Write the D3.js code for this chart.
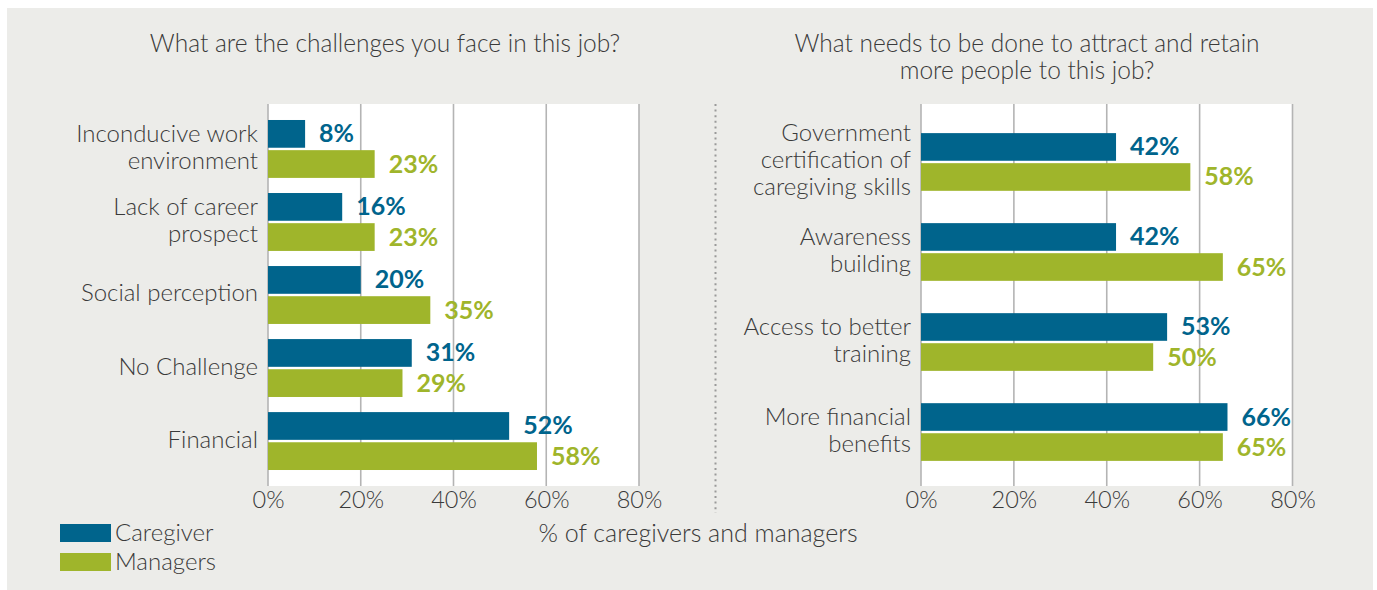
<!DOCTYPE html>
<html>
<head>
<meta charset="utf-8">
<script src="https://cdn.jsdelivr.net/npm/d3@7"></script>
<style>
  html, body { margin: 0; padding: 0; background: #ffffff; }
  svg { display: block; }
  text { font-family: Lato, "Noto Sans", sans-serif; }
</style>
</head>
<body>
<svg id="chart" width="1377" height="590"></svg>
<script>
// ---- data ----
const seriesNames = ["Caregiver", "Managers"];
const tickValues = [0, 20, 40, 60, 80];

const challengeTitle = ["What are the challenges you face in this job?"];
const challengeCategories = [
  "Inconducive work\nenvironment",
  "Lack of career\nprospect",
  "Social perception",
  "No Challenge",
  "Financial"
];
const challengeCaregiver = [8, 16, 20, 31, 52];
const challengeManagers = [23, 23, 35, 29, 58];

const retainTitle = ["What needs to be done to attract and retain", "more people to this job?"];
const retainCategories = [
  "Government\ncertification of\ncaregiving skills",
  "Awareness\nbuilding",
  "Access to better\ntraining",
  "More financial\nbenefits"
];
const retainCaregiver = [42, 42, 53, 66];
const retainManagers = [58, 65, 50, 65];

const axisTitle = "% of caregivers and managers";

// ---- style ----
const colors = { Caregiver: "#00648c", Managers: "#9fb52b" };
const textColor = "#3a3a3a";
const gridColor = "#b4b4b4";
const panelColor = "#ecece9";
const fontLight = 300;

const svg = d3.select("#chart");

svg.append("rect")
  .attr("x", 7).attr("y", 8)
  .attr("width", 1366).attr("height", 582)
  .attr("fill", panelColor);

function drawPanel(opts) {
  const { categories, caregiver, managers, x0, x1, yTop, yBottom,
          bandRange, padInner, padOuter, title, titleX } = opts;

  const x = d3.scaleLinear().domain([0, 80]).range([x0, x1]);
  const y = d3.scaleBand().domain(categories).range(bandRange)
    .paddingInner(padInner).paddingOuter(padOuter);
  const ySeries = d3.scaleBand().domain(seriesNames)
    .range([0, y.bandwidth()]).paddingInner(0.08);

  const g = svg.append("g");

  // plot background
  g.append("rect")
    .attr("x", x0).attr("y", yTop)
    .attr("width", x1 - x0).attr("height", yBottom - yTop)
    .attr("fill", "#ffffff");

  // vertical grid
  g.append("g")
    .selectAll("line")
    .data(tickValues)
    .join("line")
    .attr("x1", d => x(d)).attr("x2", d => x(d))
    .attr("y1", yTop).attr("y2", yBottom)
    .attr("stroke", gridColor)
    .attr("stroke-width", 1.6);

  // tick labels via d3 axis
  const axis = d3.axisBottom(x).tickValues(tickValues)
    .tickFormat(d => d + "%").tickSize(0).tickPadding(0);
  const axisG = g.append("g")
    .attr("transform", `translate(0,${yBottom})`)
    .call(axis);
  axisG.select(".domain").remove();
  axisG.selectAll("text")
    .attr("y", 22).attr("dy", 0)
    .attr("fill", textColor)
    .style("font-size", "23.5px")
    .style("font-weight", fontLight);

  const rows = categories.map((c, i) => ({
    category: c,
    values: [
      { series: "Caregiver", value: caregiver[i] },
      { series: "Managers", value: managers[i] }
    ]
  }));

  const rowG = g.selectAll("g.row")
    .data(rows)
    .join("g")
    .attr("class", "row")
    .attr("transform", d => `translate(0,${y(d.category)})`);

  rowG.selectAll("rect")
    .data(d => d.values)
    .join("rect")
    .attr("x", x(0))
    .attr("y", d => ySeries(d.series))
    .attr("width", d => x(d.value) - x(0))
    .attr("height", ySeries.bandwidth())
    .attr("fill", d => colors[d.series]);

  rowG.selectAll("text.value")
    .data(d => d.values)
    .join("text")
    .attr("class", "value")
    .attr("x", d => x(d.value) + 14)
    .attr("y", d => ySeries(d.series) + ySeries.bandwidth() / 2 + 8.5)
    .attr("fill", d => colors[d.series])
    .style("font-size", "25px")
    .style("font-weight", 700)
    .text(d => d.value + "%");

  // category labels
  const lineH = 27;
  rowG.append("text")
    .attr("text-anchor", "end")
    .attr("fill", textColor)
    .style("font-size", "24px")
    .style("font-weight", fontLight)
    .each(function(d) {
      const lines = d.category.split("\n");
      const mid = y.bandwidth() / 2;
      d3.select(this).selectAll("tspan")
        .data(lines)
        .join("tspan")
        .attr("x", x0 - 10)
        .attr("y", (l, i) => mid + (i - (lines.length - 1) / 2) * lineH + 6.5)
        .text(l => l);
    });

  // title
  g.append("text")
    .attr("text-anchor", "middle")
    .attr("fill", textColor)
    .style("font-size", "24.5px")
    .style("font-weight", fontLight)
    .selectAll("tspan")
    .data(title)
    .join("tspan")
    .attr("x", titleX)
    .attr("y", (t, i) => 52 + i * 27)
    .text(t => t);
}

drawPanel({
  categories: challengeCategories,
  caregiver: challengeCaregiver,
  managers: challengeManagers,
  x0: 268, x1: 639, yTop: 104, yBottom: 486,
  bandRange: [104, 486], padInner: 0.207, padOuter: 0.219,
  title: challengeTitle, titleX: 385
});

drawPanel({
  categories: retainCategories,
  caregiver: retainCaregiver,
  managers: retainManagers,
  x0: 921, x1: 1292.5, yTop: 104, yBottom: 486,
  bandRange: [108, 486], padInner: 0.359, padOuter: 0.279,
  title: retainTitle, titleX: 1027
});

// dotted divider between the two panels
svg.append("line")
  .attr("x1", 715.5).attr("x2", 715.5)
  .attr("y1", 104).attr("y2", 513)
  .attr("stroke", "#9a9a9a")
  .attr("stroke-width", 2)
  .attr("stroke-dasharray", "2 3.6");

// shared axis title
svg.append("text")
  .attr("x", 698).attr("y", 542)
  .attr("text-anchor", "middle")
  .attr("fill", textColor)
  .style("font-size", "25px")
  .style("font-weight", fontLight)
  .text(axisTitle);

// legend
const legend = svg.append("g")
  .selectAll("g")
  .data(seriesNames)
  .join("g")
  .attr("transform", (d, i) => `translate(60,${524 + i * 29})`);

legend.append("rect")
  .attr("width", 51).attr("height", 18)
  .attr("fill", d => colors[d]);

legend.append("text")
  .attr("x", 55).attr("y", 17)
  .attr("fill", textColor)
  .style("font-size", "24px")
  .style("font-weight", fontLight)
  .text(d => d);
</script>
</body>
</html>
